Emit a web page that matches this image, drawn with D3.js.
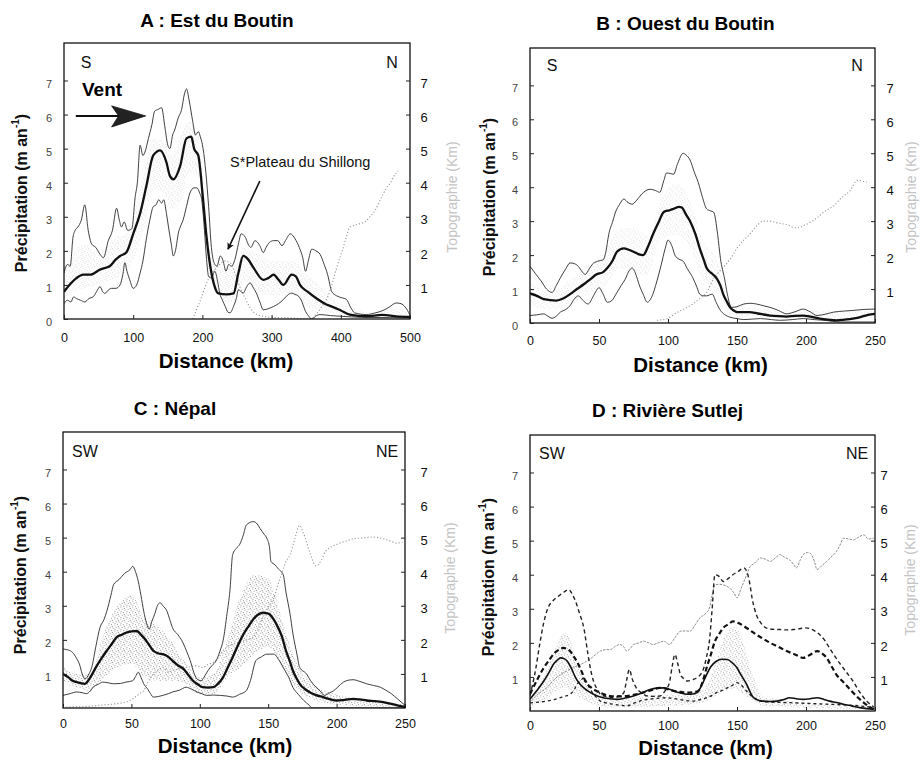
<!DOCTYPE html>
<html>
<head>
<meta charset="utf-8">
<script src="https://cdn.jsdelivr.net/npm/d3@7"></script>
<style>
  body { margin: 0; background: #fff; }
  text { font-family: "Liberation Sans", Arial, sans-serif; }
</style>
</head>
<body>
<svg id="fig" width="920" height="760"></svg>
<script>
// ---- tick labels ----
const yTicksLeftAB = [0, 1, 2, 3, 4, 5, 6, 7];
const yTicksLeftCD = [1, 2, 3, 4, 5, 6, 7];
const yTicksRight = [1, 2, 3, 4, 5, 6, 7];
const xTicksA = [0, 100, 200, 300, 400, 500];
const xTicksBCD = [0, 50, 100, 150, 200, 250];

// ---- A : Est du Boutin  [km, m/an] ----
const aMean = [[0,0.8],[10,1.05],[18,1.2],[28,1.3],[38,1.3],[52,1.45],[60,1.5],[66,1.55],[75,1.75],[81,1.85],[90,1.95],[100,2.5],[110,3.1],[119,3.9],[129,4.8],[139,4.95],[148,4.6],[153,4.2],[158,4.1],[168,4.5],[177,5.3],[184,5.35],[188,5.0],[194,4.8],[201,3.5],[206,2.4],[211,1.6],[217,1.0],[223,0.75],[235,0.72],[245,0.75],[252,1.35],[259,1.85],[266,1.75],[274,1.5],[288,1.15],[295,1.2],[303,1.3],[310,1.15],[317,1.0],[329,1.3],[335,1.25],[341,1.0],[352,0.8],[365,0.6],[377,0.45],[389,0.35],[400,0.25],[413,0.13],[437,0.08],[460,0.12],[480,0.08],[500,0.06]];
const aMax = [[0,1.35],[5,1.6],[9,1.55],[13,2.4],[16,2.6],[20,2.7],[25,2.9],[30,3.35],[35,2.6],[40,2.2],[46,2.1],[52,1.9],[57,1.8],[64,2.3],[70,2.6],[76,3.25],[80,2.9],[83,2.7],[87,2.85],[92,2.6],[98,2.65],[103,3.6],[106,4.0],[110,5.1],[114,4.8],[117,4.9],[122,5.3],[127,5.7],[131,6.1],[136,6.15],[141,6.2],[146,5.6],[150,5.1],[153,5.0],[157,5.4],[160,5.55],[165,5.9],[170,6.15],[174,6.6],[177,6.75],[181,6.4],[186,5.8],[190,5.4],[194,5.5],[197,5.35],[201,5.0],[205,4.3],[209,3.3],[213,2.1],[218,1.6],[221,1.55],[226,1.85],[230,1.7],[234,1.4],[238,1.6],[242,1.55],[247,1.75],[252,2.2],[256,2.5],[262,2.4],[266,2.2],[270,2.1],[276,2.3],[283,2.15],[288,1.95],[292,2.1],[297,2.25],[303,2.3],[309,2.3],[315,2.15],[320,2.3],[327,2.5],[334,2.35],[340,2.1],[345,1.8],[349,1.4],[353,1.7],[358,2.05],[364,2.0],[370,1.9],[376,1.6],[381,1.3],[387,0.8],[394,0.68],[402,0.62],[408,0.58],[414,0.35],[420,0.18],[437,0.13],[450,0.18],[461,0.25],[470,0.35],[480,0.47],[487,0.45],[493,0.35],[500,0.12]];
const aMin = [[0,0.45],[5,0.55],[10,0.5],[14,0.65],[18,0.6],[24,0.55],[30,0.5],[36,0.6],[42,0.65],[47,0.8],[52,0.95],[56,0.8],[59,0.75],[64,0.85],[69,0.9],[75,0.9],[81,1.0],[85,1.3],[88,1.65],[91,1.4],[95,1.15],[100,0.9],[105,1.0],[110,1.35],[114,1.7],[119,2.35],[124,2.9],[129,3.3],[133,3.35],[137,3.5],[141,3.4],[144,3.5],[148,3.1],[151,2.7],[155,2.2],[158,1.85],[162,2.1],[165,2.5],[169,2.75],[172,2.9],[177,3.3],[182,3.7],[188,3.85],[192,3.85],[196,3.7],[199,3.5],[203,2.6],[206,1.75],[209,1.25],[213,1.2],[218,1.4],[222,1.1],[225,0.76],[229,0.55],[233,0.37],[237,0.2],[240,0.18],[245,0.37],[249,0.6],[252,0.86],[256,0.8],[259,0.76],[264,0.95],[269,1.06],[274,0.9],[278,0.76],[283,0.5],[288,0.27],[295,0.3],[303,0.37],[310,0.45],[317,0.57],[323,0.7],[329,0.76],[334,0.72],[339,0.67],[344,0.5],[348,0.27],[353,0.1],[358,0.0],[365,0.1],[370,0.13],[385,0.1],[400,0.08],[430,0.05],[470,0.04],[500,0.03]];
const aTopo = [[186,0.0],[192,0.3],[198,0.6],[205,1.0],[212,1.3],[218,1.45],[225,1.6],[232,1.7],[240,1.65],[248,1.3],[255,0.9],[262,0.6],[270,0.3],[280,0.12],[300,0.05],[330,0.03],[355,0.0],[365,0.15],[372,0.35],[380,0.6],[387,1.0],[394,1.5],[402,2.0],[408,2.4],[413,2.7],[420,2.75],[428,2.8],[435,2.85],[442,3.0],[450,3.2],[457,3.5],[462,3.7],[466,3.85],[472,4.0],[477,4.2],[483,4.35]];
const aSigma = [[0,0.6,1.3],[10,0.75,1.8],[20,0.85,2.1],[30,0.9,2.2],[45,1.0,2.0],[60,1.1,2.1],[75,1.2,2.4],[90,1.4,2.5],[100,1.7,3.0],[115,2.6,4.2],[130,3.8,5.3],[145,3.7,5.2],[155,3.2,4.8],[170,3.5,5.4],[180,4.3,5.8],[195,4.2,5.3],[205,1.8,3.2],[212,1.2,2.0],[220,0.8,1.6],[235,0.5,1.5],[250,0.6,1.6],[260,1.1,2.1],[280,0.8,1.9],[300,0.7,1.7],[330,0.7,1.7],[350,0.4,1.3],[370,0.25,1.0],[390,0.15,0.6],[410,0.05,0.35],[440,0.03,0.2],[480,0.03,0.3],[500,0.02,0.15]];

// ---- B : Ouest du Boutin ----
const bMean = [[0,0.87],[5,0.8],[10,0.7],[19,0.66],[24,0.72],[29,0.85],[34,1.0],[39,1.14],[44,1.3],[48,1.43],[53,1.5],[56,1.62],[60,1.85],[63,2.1],[68,2.2],[72,2.15],[75,2.1],[79,2.02],[82,2.0],[86,2.3],[89,2.6],[93,2.95],[97,3.27],[101,3.32],[104,3.36],[108,3.42],[110,3.4],[113,3.2],[116,3.0],[120,2.6],[123,2.2],[126,1.85],[128,1.62],[132,1.45],[135,1.33],[138,1.1],[140,0.85],[143,0.6],[145,0.46],[148,0.36],[150,0.32],[155,0.32],[159,0.32],[165,0.28],[174,0.22],[180,0.2],[186,0.19],[192,0.21],[198,0.22],[204,0.18],[210,0.13],[216,0.1],[222,0.08],[228,0.1],[234,0.13],[240,0.18],[245,0.24],[250,0.27]];
const bMax = [[0,1.67],[4,1.45],[8,1.24],[12,1.0],[16,0.9],[19,1.1],[22,1.33],[26,1.6],[29,1.77],[32,1.75],[35,1.67],[38,1.5],[40,1.43],[43,1.6],[45,1.72],[49,1.82],[53,1.86],[55,2.1],[57,2.6],[60,3.0],[62,3.27],[65,3.5],[68,3.65],[71,3.55],[74,3.5],[77,3.6],[81,3.8],[84,3.9],[87,3.94],[91,3.9],[94,3.85],[97,4.2],[99,4.42],[102,4.4],[104,4.38],[107,4.7],[111,5.0],[113,4.95],[116,4.8],[119,4.45],[122,4.13],[125,3.7],[128,3.36],[131,3.3],[133,3.27],[136,2.6],[138,1.9],[141,1.3],[143,0.85],[146,0.46],[150,0.48],[155,0.56],[160,0.58],[164,0.56],[170,0.5],[174,0.46],[180,0.37],[186,0.27],[192,0.33],[198,0.41],[203,0.33],[208,0.22],[214,0.26],[220,0.32],[227,0.35],[234,0.37],[242,0.4],[250,0.41]];
const bMin = [[0,0.22],[5,0.24],[10,0.27],[13,0.2],[16,0.14],[19,0.2],[22,0.32],[26,0.4],[29,0.51],[32,0.7],[35,0.8],[38,0.68],[42,0.56],[46,0.8],[48,0.95],[50,1.04],[53,0.85],[56,0.61],[59,0.65],[63,0.9],[66,1.1],[69,1.29],[72,1.55],[74,1.62],[77,1.4],[79,1.14],[82,0.85],[85,0.61],[88,0.75],[92,1.24],[95,1.7],[98,2.2],[100,2.44],[103,2.25],[105,2.0],[108,1.88],[111,1.82],[114,1.6],[118,1.33],[121,1.05],[123,0.85],[126,0.8],[128,0.8],[132,0.85],[135,0.6],[138,0.37],[141,0.25],[145,0.17],[150,0.13],[155,0.1],[167,0.13],[175,0.1],[181,0.08],[190,0.1],[198,0.13],[206,0.1],[213,0.08],[225,0.03],[250,0.03]];
const bTopo = [[92,0.08],[99,0.12],[106,0.3],[112,0.42],[118,0.56],[123,0.72],[128,0.9],[133,1.3],[138,1.55],[145,1.88],[150,2.2],[155,2.45],[159,2.6],[164,2.85],[169,3.0],[174,3.0],[179,2.95],[186,2.9],[193,2.8],[200,2.9],[208,3.1],[214,3.3],[220,3.45],[226,3.7],[232,3.9],[237,4.2],[244,4.15]];
const bSigma = [[0,0.5,1.2],[15,0.4,0.9],[30,0.55,1.3],[45,0.9,1.8],[55,1.1,2.1],[65,1.6,2.8],[75,1.5,2.8],[85,1.4,2.6],[95,2.5,3.6],[105,2.6,4.1],[115,2.3,3.7],[125,1.3,2.5],[135,0.9,1.9],[145,0.25,0.6],[160,0.2,0.45],[200,0.12,0.35],[250,0.15,0.35]];

// ---- C : Népal ----
const cMean = [[0,1.0],[4,0.9],[7,0.8],[12,0.74],[16,0.71],[20,0.9],[24,1.19],[28,1.45],[32,1.68],[36,1.9],[39,2.07],[43,2.15],[46,2.21],[50,2.25],[54,2.26],[57,2.15],[59,2.07],[63,1.85],[66,1.68],[70,1.6],[73,1.58],[77,1.5],[80,1.39],[84,1.25],[88,1.15],[92,0.95],[95,0.8],[99,0.68],[102,0.61],[106,0.6],[110,0.61],[113,0.7],[117,0.9],[120,1.15],[124,1.49],[128,1.85],[132,2.17],[136,2.42],[139,2.6],[143,2.75],[146,2.8],[149,2.78],[151,2.75],[154,2.6],[156,2.46],[160,2.1],[163,1.68],[166,1.35],[168,1.1],[171,0.85],[173,0.71],[177,0.55],[180,0.47],[185,0.38],[190,0.32],[195,0.26],[200,0.22],[206,0.24],[212,0.27],[217,0.25],[222,0.22],[228,0.2],[234,0.17],[240,0.12],[245,0.07],[250,0.03]];
const cMax = [[0,1.73],[4,1.7],[7,1.63],[10,1.45],[12,1.29],[14,1.0],[16,0.85],[19,1.0],[21,1.19],[24,1.8],[27,2.36],[30,2.6],[32,2.84],[35,3.3],[37,3.62],[41,3.77],[45,3.95],[49,4.06],[51,4.16],[53,4.0],[55,3.72],[57,3.3],[59,2.84],[61,2.5],[63,2.31],[65,2.55],[67,2.75],[69,3.0],[71,3.09],[73,3.0],[76,2.84],[78,2.6],[80,2.36],[84,2.15],[87,1.97],[90,1.7],[93,1.39],[96,1.0],[98,0.85],[101,0.8],[103,0.9],[106,1.1],[109,1.25],[112,1.39],[115,1.7],[117,1.97],[120,2.8],[122,3.43],[124,4.5],[127,4.7],[129,4.79],[132,5.1],[134,5.37],[139,5.47],[142,5.4],[144,5.27],[147,5.1],[149,4.98],[151,4.7],[152,4.3],[155,4.2],[157,4.1],[161,3.91],[163,3.4],[166,2.75],[168,2.2],[171,1.58],[173,1.19],[178,1.0],[181,0.8],[185,0.61],[188,0.5],[191,0.37],[195,0.45],[198,0.51],[201,0.62],[205,0.76],[209,0.82],[212,0.83],[217,0.78],[222,0.71],[227,0.66],[232,0.61],[236,0.52],[240,0.42],[245,0.25],[250,0.08]];
const cMin = [[0,0.37],[5,0.42],[10,0.47],[14,0.45],[17,0.42],[20,0.5],[22,0.61],[26,0.7],[29,0.76],[33,0.74],[37,0.71],[42,0.72],[46,0.76],[51,0.8],[53,0.92],[55,1.05],[57,0.9],[59,0.71],[62,0.55],[64,0.42],[66,0.32],[70,0.34],[73,0.37],[77,0.42],[80,0.47],[85,0.52],[90,0.61],[94,0.55],[98,0.47],[102,0.41],[105,0.37],[110,0.38],[115,0.37],[120,0.35],[124,0.32],[129,0.4],[134,0.51],[137,0.8],[141,1.39],[145,1.5],[149,1.58],[154,1.58],[158,1.4],[161,1.19],[165,0.9],[168,0.61],[172,0.4],[176,0.22],[180,0.08],[182,0.0],[250,0.0]];
const cTopo = [[0,0.03],[15,0.04],[27,0.08],[38,0.12],[46,0.17],[52,0.3],[56,0.42],[59,0.51],[62,0.75],[66,1.0],[70,1.12],[73,1.19],[77,1.05],[80,1.1],[85,1.15],[90,1.19],[94,1.22],[98,1.24],[102,1.19],[106,1.28],[110,1.34],[114,1.5],[117,1.68],[120,1.8],[124,1.87],[128,1.9],[132,1.97],[136,2.02],[139,2.07],[143,2.35],[146,2.65],[150,2.95],[154,3.23],[157,3.6],[160,3.96],[163,4.3],[166,4.5],[169,4.9],[173,5.36],[175,5.2],[177,5.0],[181,4.49],[185,4.17],[189,4.35],[192,4.6],[195,4.7],[200,4.8],[207,4.9],[213,4.97],[219,4.99],[225,5.02],[232,4.99],[238,4.92],[244,4.84],[248,4.86]];
const cSigma = [[0,0.8,1.2],[10,0.6,1.0],[20,0.5,1.0],[30,0.9,2.2],[40,1.2,3.0],[50,1.3,3.3],[60,0.9,2.6],[70,0.8,2.4],[80,0.8,1.9],[90,0.7,1.3],[100,0.4,0.9],[110,0.4,1.0],[120,0.9,2.0],[130,1.2,3.3],[140,1.6,3.9],[150,1.8,3.8],[160,1.2,2.6],[170,0.6,1.4],[180,0.3,0.8],[200,0.1,0.4],[250,0.0,0.1]];

// ---- D : Rivière Sutlej ----
const dSolid = [[0,0.35],[5,0.6],[10,0.88],[14,1.15],[17,1.37],[20,1.5],[22,1.56],[25,1.53],[27,1.46],[30,1.25],[33,0.98],[36,0.8],[39,0.68],[43,0.56],[46,0.49],[53,0.39],[58,0.36],[63,0.34],[69,0.38],[75,0.44],[81,0.53],[87,0.63],[92,0.67],[97,0.68],[101,0.64],[104,0.59],[109,0.53],[114,0.49],[118,0.5],[121,0.54],[124,0.72],[128,1.07],[131,1.3],[135,1.46],[139,1.52],[143,1.51],[147,1.4],[150,1.27],[153,1.05],[157,0.78],[160,0.52],[162,0.39],[166,0.31],[169,0.29],[174,0.28],[179,0.29],[184,0.34],[188,0.39],[193,0.36],[198,0.34],[203,0.36],[208,0.39],[213,0.34],[217,0.29],[222,0.25],[227,0.2],[233,0.15],[239,0.1],[244,0.07],[249,0.05]];
const dDashHigh = [[0,0.45],[4,1.2],[7,1.95],[10,2.6],[13,3.02],[17,3.25],[22,3.41],[25,3.5],[28,3.56],[31,3.4],[33,3.22],[36,2.85],[39,2.44],[42,1.66],[44,1.2],[46,0.88],[49,0.62],[51,0.49],[55,0.43],[60,0.39],[65,0.45],[68,0.54],[70,0.9],[72,1.22],[74,0.95],[77,0.68],[81,0.53],[85,0.44],[90,0.43],[94,0.44],[98,0.6],[101,0.83],[103,1.3],[105,1.66],[107,1.4],[109,1.07],[112,0.93],[114,0.88],[118,0.92],[121,0.98],[124,1.1],[126,1.27],[128,1.6],[130,2.05],[132,3.0],[134,4.0],[137,3.95],[140,3.8],[144,3.9],[147,4.0],[151,4.1],[155,4.2],[157,4.1],[159,3.8],[161,3.3],[164,2.83],[167,2.6],[171,2.44],[176,2.4],[181,2.39],[186,2.38],[191,2.39],[196,2.42],[200,2.44],[205,2.38],[210,2.24],[214,2.05],[217,1.85],[221,1.6],[225,1.37],[230,1.1],[234,0.88],[239,0.55],[244,0.29],[249,0.12]];
const dDashMid = [[0,0.5],[5,0.9],[10,1.27],[14,1.5],[18,1.71],[21,1.8],[24,1.85],[27,1.82],[29,1.76],[32,1.58],[35,1.37],[38,1.1],[40,0.88],[44,0.7],[48,0.59],[53,0.5],[58,0.44],[64,0.43],[70,0.44],[76,0.48],[82,0.54],[88,0.61],[94,0.68],[99,0.65],[104,0.59],[109,0.56],[114,0.54],[118,0.55],[122,0.59],[125,0.85],[128,1.27],[131,1.65],[134,2.05],[137,2.25],[140,2.44],[144,2.55],[147,2.63],[151,2.58],[155,2.49],[159,2.38],[164,2.24],[169,2.12],[174,2.0],[180,1.88],[186,1.76],[192,1.66],[198,1.56],[203,1.65],[208,1.76],[212,1.68],[215,1.56],[218,1.35],[222,1.07],[227,0.85],[232,0.63],[237,0.42],[242,0.24],[246,0.12],[249,0.05]];
const dDashLow = [[0,0.24],[6,0.26],[12,0.29],[17,0.33],[22,0.39],[26,0.44],[29,0.49],[32,0.62],[34,0.78],[37,0.9],[39,0.98],[41,0.85],[43,0.68],[47,0.45],[51,0.29],[55,0.24],[60,0.2],[65,0.17],[70,0.15],[75,0.22],[80,0.3],[85,0.34],[92,0.37],[99,0.39],[108,0.34],[118,0.29],[123,0.33],[128,0.39],[132,0.46],[135,0.54],[139,0.6],[143,0.68],[147,0.76],[150,0.83],[153,0.76],[155,0.68],[157,0.58],[159,0.49],[163,0.38],[167,0.29],[175,0.26],[183,0.25],[191,0.24],[203,0.22],[215,0.2],[227,0.18],[239,0.15],[249,0.1]];
const dTopo = [[1,0.29],[6,0.5],[12,0.68],[17,0.9],[22,1.07],[27,1.18],[31,1.27],[36,1.35],[41,1.46],[46,1.6],[51,1.76],[55,1.8],[58,1.8],[62,1.9],[65,1.95],[68,1.88],[70,1.76],[73,1.85],[75,1.95],[79,2.0],[82,2.05],[86,2.0],[89,1.95],[93,2.0],[97,2.05],[99,2.0],[101,1.95],[105,2.15],[109,2.34],[113,2.35],[116,2.34],[120,2.55],[123,2.73],[127,2.85],[130,3.02],[132,3.4],[134,3.7],[137,3.72],[140,3.7],[143,3.65],[145,3.6],[148,3.45],[150,3.32],[153,3.6],[155,3.8],[157,4.0],[159,4.2],[163,4.35],[167,4.49],[171,4.45],[174,4.39],[178,4.5],[181,4.59],[185,4.5],[188,4.44],[191,4.3],[193,4.2],[196,4.45],[198,4.59],[201,4.65],[203,4.63],[206,4.4],[208,4.15],[211,4.25],[215,4.39],[219,4.55],[222,4.68],[225,4.9],[227,5.07],[231,5.05],[234,5.02],[238,5.1],[242,5.17],[245,5.05],[249,5.07]];
const dSigma = [[0,0.1,0.4],[10,0.3,1.0],[18,0.55,1.8],[25,0.7,2.3],[30,0.6,2.0],[36,0.4,1.2],[45,0.2,0.6],[60,0.1,0.4],[100,0.15,0.5],[125,0.25,0.6],[135,0.45,1.5],[142,0.6,2.3],[148,0.65,2.5],[153,0.55,2.2],[160,0.35,1.2],[170,0.15,0.4],[250,0.05,0.1]];

// ---- annotations (km, m/an) ----
const windArrow = [[17, 5.96], [118, 5.96]];
const shillongArrow = [[283, 4.05], [237, 2.05]];

// line styles
const styles = {
    mean:  { stroke: '#111', width: 2.3 },
    env:   { stroke: '#2a2a2a', width: 0.9 },
    topo:  { stroke: '#999', width: 1.1, dash: '1.2,2' },
    topoD: { stroke: '#8c8c8c', width: 1, dash: '2.5,1.2' },
    solid: { stroke: '#111', width: 1.6 },
    dHigh: { stroke: '#222', width: 1.4, dash: '4,3' },
    dMid:  { stroke: '#111', width: 2.2, dash: '5,3' },
    dLow:  { stroke: '#222', width: 1.3, dash: '3,3' }
};

const panels = [
    { key: 'A', title: 'A : Est du Boutin', box: { x: 64, y: 43, w: 346, h: 276 }, xMax: 500, xTicks: xTicksA,
      leftTicks: yTicksLeftAB, dirs: ['S', 'N'], titleDx: -20, titleDy: -16, xlabDx: -11, xlabDy: 49,
      ylabL: [-43, 150], ylabR: [42, 154], rtDx: 14, btPad: 14, dirDy: 25, sigma: aSigma, stipOp: 0.25,
      series: [[aTopo, 'topo'], [aMin, 'env'], [aMax, 'env'], [aMean, 'mean']] },
    { key: 'B', title: 'B : Ouest du Boutin', box: { x: 530, y: 48, w: 345, h: 275 }, xMax: 250, xTicks: xTicksBCD,
      leftTicks: yTicksLeftAB, dirs: ['S', 'N'], titleDx: -17, titleDy: -18, xlabDx: -2, xlabDy: 49,
      ylabL: [-41, 149], ylabR: [36, 149], rtDx: 15, btPad: 13, dirDy: 23, sigma: bSigma, stipOp: 0.22,
      series: [[bTopo, 'topo'], [bMin, 'env'], [bMax, 'env'], [bMean, 'mean']] },
    { key: 'C', title: 'C : Népal', box: { x: 63, y: 432, w: 342, h: 276 }, xMax: 250, xTicks: xTicksBCD,
      leftTicks: yTicksLeftCD, dirs: ['SW', 'NE'], titleDx: -59, titleDy: -17, xlabDx: -9, xlabDy: 45,
      ylabL: [-43, 143], ylabR: [45, 146], rtDx: 19, btPad: 11, dirDy: 25, sigma: cSigma, stipOp: 0.8,
      series: [[cTopo, 'topo'], [cMin, 'env'], [cMax, 'env'], [cMean, 'mean']] },
    { key: 'D', title: 'D : Rivière Sutlej', box: { x: 530, y: 435, w: 345, h: 276 }, xMax: 250, xTicks: xTicksBCD,
      leftTicks: yTicksLeftCD, dirs: ['SW', 'NE'], titleDx: -35, titleDy: -18, xlabDx: 3, xlabDy: 44,
      ylabL: [-42, 142], ylabR: [35, 145], rtDx: 9, btPad: 10, dirDy: 24, sigma: dSigma, stipOp: 0.6,
      series: [[dTopo, 'topoD'], [dDashLow, 'dLow'], [dDashHigh, 'dHigh'], [dDashMid, 'dMid'], [dSolid, 'solid']] }
];

const svg = d3.select('#fig');
const defs = svg.append('defs');

// Stipple pattern for the standard deviation band
const stip = defs.append('pattern')
    .attr('id', 'stipple')
    .attr('width', 6).attr('height', 6)
    .attr('patternUnits', 'userSpaceOnUse');
[[0.8, 1.0], [3.6, 0.6], [2.2, 3.2], [5.1, 4.1], [1.0, 5.2], [4.3, 2.4]].forEach(p => {
    stip.append('circle').attr('cx', p[0]).attr('cy', p[1]).attr('r', 0.55).attr('fill', '#777');
});

defs.append('marker')
    .attr('id', 'head')
    .attr('viewBox', '0 0 10 10')
    .attr('refX', 9).attr('refY', 5)
    .attr('markerWidth', 7).attr('markerHeight', 7)
    .attr('markerUnits', 'userSpaceOnUse')
    .attr('orient', 'auto')
    .append('path')
    .attr('d', 'M0,0 L10,5 L0,10 L3,5 Z')
    .attr('fill', '#111');

panels.forEach(p => {
    const b = p.box;
    const x = d3.scaleLinear().domain([0, p.xMax]).range([b.x, b.x + b.w]);
    const y = d3.scaleLinear().domain([0, 8.1]).range([b.y + b.h, b.y]);
    const g = svg.append('g').classed('panel' + p.key, true);

    defs.append('clipPath').attr('id', 'clip' + p.key)
        .append('rect').attr('x', b.x).attr('y', b.y).attr('width', b.w).attr('height', b.h);

    const plot = g.append('g').attr('clip-path', `url(#clip${p.key})`);

    // Stippled band
    plot.append('path')
        .datum(p.sigma)
        .attr('d', d3.area().x(d => x(d[0])).y0(d => y(d[1])).y1(d => y(d[2])).curve(d3.curveMonotoneX))
        .attr('fill', 'url(#stipple)')
        .attr('opacity', p.stipOp);

    // Profiles
    const line = d3.line().x(d => x(d[0])).y(d => y(d[1])).curve(d3.curveMonotoneX);
    p.series.forEach(([data, st]) => {
        const s = styles[st];
        plot.append('path')
            .datum(data)
            .attr('d', line)
            .attr('fill', 'none')
            .attr('stroke', s.stroke)
            .attr('stroke-width', s.width)
            .attr('stroke-dasharray', s.dash || null)
            .attr('stroke-linejoin', 'round');
    });

    // Frame
    g.append('rect')
        .attr('x', b.x).attr('y', b.y).attr('width', b.w).attr('height', b.h)
        .attr('fill', 'none').attr('stroke', '#111').attr('stroke-width', 1.3);

    // Left axis
    g.append('g')
        .attr('transform', `translate(${b.x},0)`)
        .call(d3.axisLeft(y).tickValues(p.leftTicks).tickSizeInner(-4).tickSizeOuter(0).tickPadding(12))
        .call(a => a.select('.domain').remove())
        .call(a => a.selectAll('line').attr('stroke', '#222'))
        .call(a => a.selectAll('text').attr('y', 3).attr('font-size', 11).attr('fill', '#444'));

    // Right axis
    g.append('g')
        .attr('transform', `translate(${b.x + b.w},0)`)
        .call(d3.axisRight(y).tickValues(yTicksRight).tickSizeInner(-4).tickSizeOuter(0))
        .call(a => a.select('.domain').remove())
        .call(a => a.selectAll('line').attr('stroke', '#222'))
        .call(a => a.selectAll('text').attr('x', p.rtDx).attr('y', 3).attr('text-anchor', 'middle')
            .attr('font-size', 13).attr('fill', '#111'));

    // Bottom axis
    g.append('g')
        .attr('transform', `translate(0,${b.y + b.h})`)
        .call(d3.axisBottom(x).tickValues(p.xTicks).tickSizeInner(-4).tickSizeOuter(0).tickPadding(p.btPad))
        .call(a => a.select('.domain').remove())
        .call(a => a.selectAll('line').attr('stroke', '#222'))
        .call(a => a.selectAll('text').attr('font-size', 12.5).attr('fill', '#111'));

    // Title
    g.append('text')
        .attr('x', b.x + b.w / 2 + p.titleDx).attr('y', b.y + p.titleDy)
        .attr('text-anchor', 'middle').attr('font-size', 19).attr('font-weight', 'bold')
        .text(p.title);

    // X label
    g.append('text')
        .attr('x', b.x + b.w / 2 + p.xlabDx).attr('y', b.y + b.h + p.xlabDy)
        .attr('text-anchor', 'middle').attr('font-size', 20.5).attr('font-weight', 'bold')
        .text('Distance (km)');

    // Left Y label
    const yl = g.append('text')
        .attr('transform', `translate(${b.x + p.ylabL[0]},${b.y + p.ylabL[1]}) rotate(-90)`)
        .attr('text-anchor', 'middle').attr('dominant-baseline', 'central')
        .attr('font-size', 16).attr('font-weight', 'bold').attr('fill', '#111');
    yl.append('tspan').text('Précipitation (m an');
    yl.append('tspan').attr('dy', -6).attr('font-size', 10).text('-1');
    yl.append('tspan').attr('dy', 6).text(')');

    // Right Y label
    g.append('text')
        .attr('transform', `translate(${b.x + b.w + p.ylabR[0]},${b.y + p.ylabR[1]}) rotate(-90)`)
        .attr('text-anchor', 'middle').attr('dominant-baseline', 'central')
        .attr('font-size', 14).attr('fill', '#c4c4c4')
        .text('Topographie (Km)');

    // Direction labels
    g.append('text')
        .attr('x', b.x + 22).attr('y', b.y + p.dirDy)
        .attr('text-anchor', 'middle').attr('font-size', 16).attr('fill', '#111')
        .text(p.dirs[0]);
    g.append('text')
        .attr('x', b.x + b.w - 18).attr('y', b.y + p.dirDy)
        .attr('text-anchor', 'middle').attr('font-size', 16).attr('fill', '#111')
        .text(p.dirs[1]);

    // Annotations for panel A
    if (p.key === 'A') {
        g.append('text')
            .attr('x', x(26)).attr('y', y(6.55))
            .attr('font-size', 19).attr('font-weight', 'bold')
            .text('Vent');

        const [w0, w1] = windArrow;
        g.append('line')
            .attr('x1', x(w0[0])).attr('y1', y(w0[1]))
            .attr('x2', x(w1[0]) - 20).attr('y2', y(w1[1]))
            .attr('stroke', '#111').attr('stroke-width', 2);
        const tipX = x(w1[0]), tipY = y(w1[1]);
        g.append('path')
            .attr('d', `M${tipX},${tipY} L${tipX - 34},${tipY - 10} L${tipX - 27},${tipY} L${tipX - 34},${tipY + 11} Z`)
            .attr('fill', '#222').attr('stroke', '#111').attr('stroke-width', 0.8);

        g.append('text')
            .attr('x', x(240)).attr('y', y(4.46))
            .attr('font-size', 14.5).attr('fill', '#111')
            .text('S*Plateau du Shillong');

        const [s0, s1] = shillongArrow;
        g.append('line')
            .attr('x1', x(s0[0])).attr('y1', y(s0[1]))
            .attr('x2', x(s1[0])).attr('y2', y(s1[1]))
            .attr('stroke', '#111').attr('stroke-width', 1.6)
            .attr('marker-end', 'url(#head)');
    }
});
</script>
</body>
</html>
